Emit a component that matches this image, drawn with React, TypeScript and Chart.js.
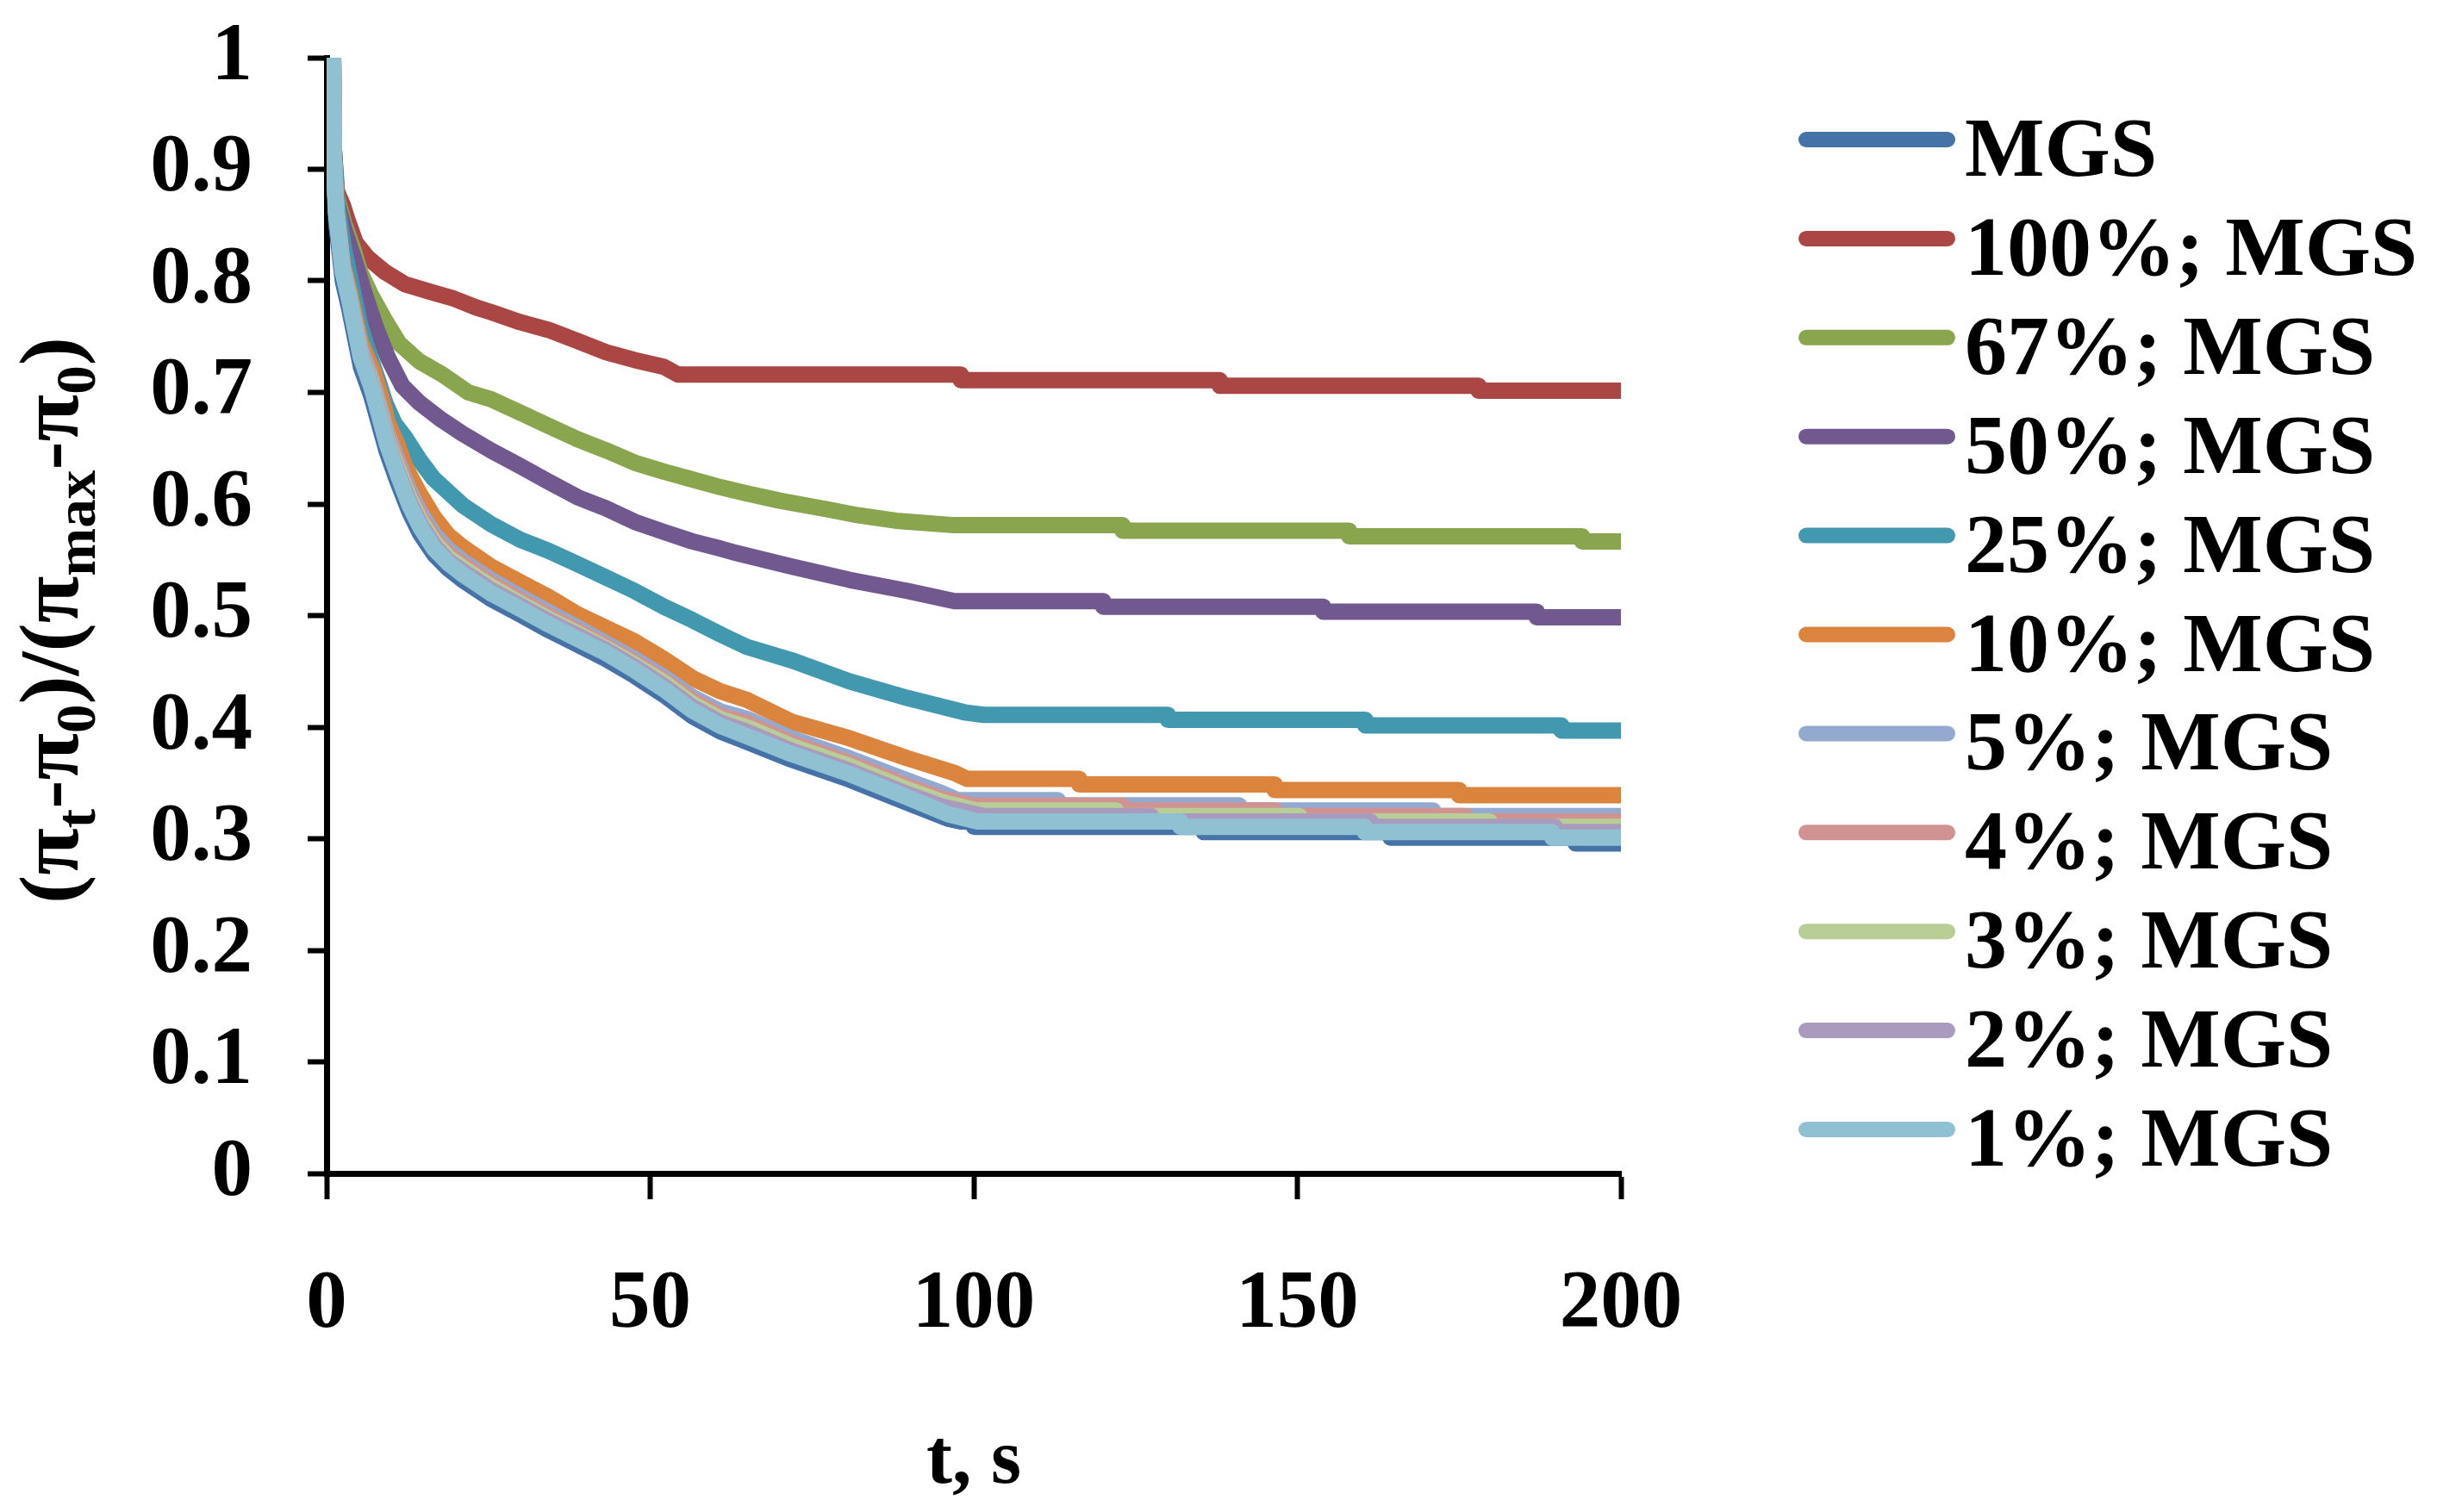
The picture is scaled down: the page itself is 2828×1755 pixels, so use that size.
import React, {useEffect, useRef} from 'react';
import {Chart, registerables} from 'chart.js';

Chart.register(...registerables);

const FONT = '"Liberation Serif", "Times New Roman", serif';

const seriesLabels = ['MGS', '100%; MGS', '67%; MGS', '50%; MGS', '25%; MGS', '10%; MGS',
    '5%; MGS', '4%; MGS', '3%; MGS', '2%; MGS', '1%; MGS'];
const seriesColors = ['#4572A7', '#AA4643', '#89A54E', '#71588F', '#4198AF', '#DB843D',
    '#93A9CF', '#D19392', '#B9CD96', '#A99BBD', '#8FC1D3'];

// [t, s ; normalised surface pressure]
const mgs: number[][] = [[1, 1], [1.1, 0.9], [1.5, 0.852], [2, 0.826], [2.5, 0.8], [3.5, 0.775], [4.4, 0.749],
    [5.3, 0.723], [6.9, 0.697], [8.1, 0.672], [9.3, 0.647], [10.9, 0.621], [12.8, 0.593], [14.5, 0.573],
    [16.6, 0.555], [18.8, 0.542], [21, 0.532], [25.4, 0.515], [29.9, 0.501], [34.3, 0.487], [38.8, 0.474],
    [43.2, 0.461], [47.6, 0.446], [52.1, 0.429], [56.5, 0.41], [60.9, 0.396], [64.9, 0.387], [71.8, 0.371],
    [80.8, 0.353], [89.8, 0.332], [96, 0.318], [98, 0.3154], [100, 0.3154], [100, 0.3107], [135.5, 0.3107],
    [135.5, 0.3059], [164.4, 0.3059], [164.4, 0.301], [193, 0.301], [193, 0.2958], [200, 0.2958]];
const p100: number[][] = [[1, 1], [1.1, 0.92], [1.6, 0.88], [2.5, 0.868], [3.2, 0.855], [4.5, 0.834], [6.3, 0.821],
    [9, 0.808], [12.1, 0.797], [16.1, 0.79], [19.7, 0.784], [23.2, 0.776], [25.4, 0.772], [29.9, 0.763],
    [34.3, 0.756], [38.8, 0.746], [43.2, 0.736], [47.6, 0.729], [52.1, 0.723], [54.3, 0.716], [98, 0.716],
    [98, 0.711], [138, 0.711], [138, 0.706], [178, 0.706], [178, 0.7015], [200, 0.7015]];
const p67: number[][] = [[1, 1], [1.1, 0.92], [1.6, 0.875], [2.8, 0.85], [4.1, 0.829], [5.2, 0.808], [6.8, 0.788],
    [9, 0.765], [11.2, 0.744], [14.3, 0.728], [17.9, 0.716], [21.9, 0.7], [25.4, 0.694], [29.9, 0.682],
    [34.3, 0.67], [38.8, 0.658], [43.2, 0.648], [47.6, 0.637], [52.1, 0.629], [56.5, 0.622], [60.9, 0.615],
    [64.5, 0.61], [70, 0.603], [77.6, 0.595], [82, 0.59], [88, 0.585], [97, 0.581], [123, 0.581], [123, 0.576],
    [158, 0.576], [158, 0.571], [194, 0.571], [194, 0.5665], [200, 0.5665]];
const p50: number[][] = [[1, 1], [1.1, 0.92], [1.6, 0.87], [2.8, 0.845], [4.5, 0.815], [5.9, 0.788], [7.7, 0.757],
    [9.5, 0.731], [11.7, 0.706], [14.3, 0.691], [17.4, 0.677], [21, 0.663], [25.4, 0.648], [29.9, 0.634],
    [34.3, 0.62], [38.8, 0.606], [43.2, 0.596], [47.6, 0.584], [52.1, 0.575], [56.5, 0.5665], [60.9, 0.56],
    [62.7, 0.557], [71.8, 0.544], [80.8, 0.532], [89.8, 0.522], [97, 0.513], [120, 0.513], [120, 0.508],
    [154, 0.508], [154, 0.5035], [187, 0.5035], [187, 0.4985], [200, 0.4985]];
const p25: number[][] = [[1, 1], [1.1, 0.92], [1.6, 0.87], [2.8, 0.825], [4.1, 0.79], [5.2, 0.76], [6.7, 0.732],
    [8, 0.71], [9.1, 0.69], [10.5, 0.672], [12.1, 0.66], [14.3, 0.64], [16.5, 0.623], [21, 0.599], [25.4, 0.582],
    [29.9, 0.568], [34.3, 0.558], [38.8, 0.546], [43.2, 0.534], [47.6, 0.522], [52.1, 0.508], [56.5, 0.496],
    [60.9, 0.483], [64.9, 0.472], [71.8, 0.46], [80.8, 0.441], [89.8, 0.426], [98.8, 0.413], [101.6, 0.411],
    [130, 0.411], [130, 0.4065], [160.5, 0.4065], [160.5, 0.4016], [190.8, 0.4016], [190.8, 0.397], [200, 0.397]];
const p10: number[][] = [[1, 1], [1.1, 0.915], [1.5, 0.865], [2, 0.84], [2.5, 0.815], [3.5, 0.792], [4.4, 0.768],
    [5.3, 0.745], [7.3, 0.718], [8.5, 0.695], [9.5, 0.672], [10.9, 0.654], [12.1, 0.634], [14.3, 0.61],
    [16.5, 0.589], [18.8, 0.572], [21, 0.5615], [25.4, 0.544], [29.9, 0.53], [34.3, 0.5166], [38.8, 0.501],
    [43.2, 0.489], [47.6, 0.4767], [52.1, 0.461], [56.5, 0.444], [60.9, 0.432], [64.9, 0.4245], [71.8, 0.405],
    [80.8, 0.39], [89.8, 0.372], [97, 0.359], [99, 0.3536], [116.3, 0.3536], [116.3, 0.3487], [146.5, 0.3487],
    [146.5, 0.3436], [175, 0.3436], [175, 0.339], [200, 0.339]];
const p5: number[][] = [[1, 1], [1.1, 0.913], [1.5, 0.863], [2, 0.838], [2.5, 0.812], [3.5, 0.788], [4.4, 0.763],
    [5.3, 0.739], [6.9, 0.714], [8.1, 0.69], [9.3, 0.665], [10.9, 0.64], [12.8, 0.612], [14.5, 0.592],
    [16.6, 0.573], [18.8, 0.559], [21, 0.549], [25.4, 0.532], [29.9, 0.517], [34.3, 0.503], [38.8, 0.489],
    [43.2, 0.475], [47.6, 0.461], [52.1, 0.445], [56.5, 0.427], [60.9, 0.414], [64.9, 0.4075], [71.8, 0.39],
    [80.8, 0.372], [89.8, 0.352], [95, 0.341], [97.5, 0.3346], [113, 0.3346], [113, 0.33], [141, 0.33],
    [141, 0.3252], [171, 0.3252], [171, 0.3202], [200, 0.3202]];
const p4: number[][] = [[1, 1], [1.1, 0.912], [1.5, 0.862], [2, 0.837], [2.5, 0.811], [3.5, 0.786], [4.4, 0.761],
    [5.3, 0.736], [6.9, 0.711], [8.1, 0.687], [9.3, 0.661], [10.9, 0.636], [12.8, 0.608], [14.5, 0.588],
    [16.6, 0.569], [18.8, 0.555], [21, 0.546], [25.4, 0.529], [29.9, 0.514], [34.3, 0.5], [38.8, 0.486],
    [43.2, 0.4726], [47.6, 0.458], [52.1, 0.442], [56.5, 0.424], [60.9, 0.41], [64.9, 0.4037], [71.8, 0.386],
    [80.8, 0.368], [89.8, 0.347], [95, 0.336], [100, 0.3295], [123, 0.3295], [123, 0.3252], [146.6, 0.3252],
    [146.6, 0.3202], [176, 0.3202], [176, 0.3154], [200, 0.3154]];
const p3: number[][] = [[1, 1], [1.1, 0.911], [1.5, 0.861], [2, 0.836], [2.5, 0.81], [3.5, 0.785], [4.4, 0.759],
    [5.3, 0.734], [6.9, 0.709], [8.1, 0.685], [9.3, 0.658], [10.9, 0.633], [12.8, 0.605], [14.5, 0.585],
    [16.6, 0.566], [18.8, 0.552], [21, 0.543], [25.4, 0.526], [29.9, 0.511], [34.3, 0.497], [38.8, 0.484],
    [43.2, 0.4706], [47.6, 0.456], [52.1, 0.44], [56.5, 0.421], [60.9, 0.407], [64.9, 0.4], [71.8, 0.383],
    [80.8, 0.365], [89.8, 0.344], [95, 0.333], [100.5, 0.3252], [122, 0.3252], [122, 0.3202], [150.3, 0.3202],
    [150.3, 0.3154], [179.7, 0.3154], [179.7, 0.3107], [200, 0.3107]];
const p2: number[][] = [[1, 1], [1.1, 0.91], [1.5, 0.86], [2, 0.835], [2.5, 0.809], [3.5, 0.784], [4.4, 0.758],
    [5.3, 0.733], [6.9, 0.707], [8.1, 0.683], [9.3, 0.656], [10.9, 0.63], [12.8, 0.602], [14.5, 0.582],
    [16.6, 0.563], [18.8, 0.549], [21, 0.54], [25.4, 0.523], [29.9, 0.509], [34.3, 0.495], [38.8, 0.482],
    [43.2, 0.469], [47.6, 0.454], [52.1, 0.437], [56.5, 0.418], [60.9, 0.404], [64.9, 0.396], [71.8, 0.379],
    [80.8, 0.361], [89.8, 0.34], [95, 0.329], [101.6, 0.3202], [127.4, 0.3202], [127.4, 0.3154], [161.3, 0.3154],
    [161.3, 0.3107], [189.8, 0.3107], [189.8, 0.3059], [200, 0.3059]];
const p1: number[][] = [[1, 1], [1.1, 0.91], [1.5, 0.86], [2, 0.834], [2.5, 0.808], [3.5, 0.783], [4.4, 0.757],
    [5.3, 0.731], [6.9, 0.705], [8.1, 0.68], [9.3, 0.654], [10.9, 0.628], [12.8, 0.599], [14.5, 0.579],
    [16.6, 0.56], [18.8, 0.547], [21, 0.537], [25.4, 0.52], [29.9, 0.506], [34.3, 0.492], [38.8, 0.479],
    [43.2, 0.4664], [47.6, 0.451], [52.1, 0.434], [56.5, 0.415], [60.9, 0.401], [64.9, 0.392], [71.8, 0.376],
    [80.8, 0.358], [89.8, 0.337], [96, 0.322], [100.6, 0.3154], [131.9, 0.3154], [131.9, 0.3107], [160.4, 0.3107],
    [160.4, 0.3059], [189.4, 0.3059], [189.4, 0.301], [200, 0.301]];

const seriesData = [mgs, p100, p67, p50, p25, p10, p5, p4, p3, p2, p1];

const xTickLabels = ['0', '50', '100', '150', '200'];
const yTickLabels = ['0', '0.1', '0.2', '0.3', '0.4', '0.5', '0.6', '0.7', '0.8', '0.9', '1'];

// y title pieces, true = subscript
const yTitleParts: [string, boolean][] = [['(', false], ['π', false], ['t', true], ['-', false], ['π', false],
    ['0', true], [')', false], ['/', false], ['(', false], ['π', false], ['max', true], ['-', false], ['π', false],
    ['0', true], [')', false]];

const yTitlePlugin = {
    id: 'yTitle',
    afterDraw(chart: Chart) {
        const ctx = chart.ctx;
        const mainFont = `bold 98px ${FONT}`;
        const subFont = `bold 66px ${FONT}`;
        ctx.save();
        ctx.fillStyle = '#000';
        ctx.textAlign = 'left';
        ctx.textBaseline = 'alphabetic';
        const widths = yTitleParts.map(([s, sub]) => {
            ctx.font = sub ? subFont : mainFont;
            return ctx.measureText(s).width;
        });
        const total = widths.reduce((a, b) => a + b, 0);
        ctx.translate(90, 720);
        ctx.rotate(-Math.PI / 2);
        // the original title runs about 658px long
        ctx.scale(658 / total, 1);
        let x = -total / 2;
        yTitleParts.forEach(([s, sub], i) => {
            ctx.font = sub ? subFont : mainFont;
            ctx.fillText(s, x, sub ? 20 : 0);
            x += widths[i];
        });
        ctx.restore();
    },
};

const legendPlugin = {
    id: 'sideLegend',
    afterDraw(chart: Chart) {
        const ctx = chart.ctx;
        ctx.save();
        chart.data.datasets.forEach((ds: any, i: number) => {
            const y = 162 + i * 114.9;
            ctx.strokeStyle = ds.borderColor;
            ctx.lineWidth = 18;
            ctx.lineCap = 'round';
            ctx.beginPath();
            ctx.moveTo(2096, y);
            ctx.lineTo(2260, y);
            ctx.stroke();
            ctx.font = `bold 98px ${FONT}`;
            ctx.fillStyle = '#000';
            ctx.textAlign = 'left';
            ctx.textBaseline = 'alphabetic';
            ctx.fillText(ds.label, 2280, y + 42);
        });
        ctx.restore();
    },
};

export default function App() {
    const canvasRef = useRef<HTMLCanvasElement>(null);

    useEffect(() => {
        if (!canvasRef.current) return;
        const chart = new Chart(canvasRef.current, {
            type: 'line',
            data: {
                datasets: seriesData.map((pts, i) => ({
                    label: seriesLabels[i],
                    data: pts.map(([x, y]) => ({x, y})),
                    borderColor: seriesColors[i],
                    backgroundColor: seriesColors[i],
                    borderWidth: 19,
                    borderJoinStyle: 'round' as const,
                    borderCapStyle: 'butt' as const,
                    pointRadius: 0,
                    tension: 0,
                    fill: false,
                    clip: 0,
                    order: seriesData.length - i,
                })),
            },
            options: {
                animation: false,
                responsive: false,
                devicePixelRatio: 1,
                events: [],
                layout: {padding: {left: 0, right: 947, top: 67, bottom: 0}},
                plugins: {legend: {display: false}, tooltip: {enabled: false}},
                scales: {
                    x: {
                        type: 'linear',
                        min: 0,
                        max: 200,
                        afterFit: (scale: any) => {
                            scale.height = 393;
                            scale.paddingLeft = 0;
                            scale.paddingRight = 0;
                        },
                        border: {display: true, color: '#000', width: 7},
                        grid: {drawOnChartArea: false, tickLength: 30, tickWidth: 6, tickColor: '#000'},
                        ticks: {
                            stepSize: 50,
                            padding: 66,
                            color: '#000',
                            font: {family: FONT, size: 95, weight: 'bold'},
                            callback: (v: any) => xTickLabels[Math.round(Number(v) / 50)] ?? '',
                        },
                        title: {
                            display: true,
                            text: 't, s',
                            color: '#000',
                            font: {family: FONT, size: 90, weight: 'bold'},
                            padding: {top: 0, bottom: 3},
                        },
                    },
                    y: {
                        type: 'linear',
                        min: 0,
                        max: 1,
                        afterFit: (scale: any) => {
                            scale.width = 379;
                            scale.paddingTop = 0;
                            scale.paddingBottom = 0;
                        },
                        border: {display: true, color: '#000', width: 7},
                        grid: {drawOnChartArea: false, tickLength: 22, tickWidth: 6, tickColor: '#000'},
                        ticks: {
                            stepSize: 0.1,
                            padding: 64,
                            color: '#000',
                            font: {family: FONT, size: 95, weight: 'bold'},
                            callback: (v: any) => yTickLabels[Math.round(Number(v) * 10)] ?? '',
                        },
                    },
                },
            },
            plugins: [yTitlePlugin, legendPlugin],
        });
        return () => chart.destroy();
    }, []);

    return (
        <div style={{position: 'absolute', left: 0, top: 0, width: 2828, height: 1755, background: '#fff'}}>
            <canvas ref={canvasRef} width={2828} height={1755} style={{display: 'block', width: 2828, height: 1755}}/>
        </div>
    );
}
